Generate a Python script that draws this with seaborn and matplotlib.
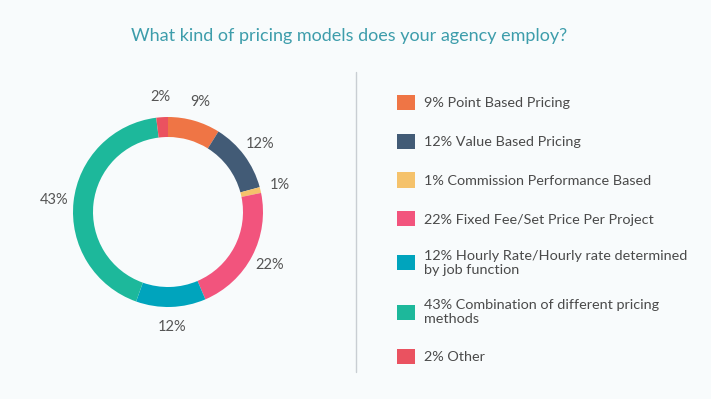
import matplotlib
matplotlib.use("Agg")
import matplotlib.pyplot as plt
import seaborn as sns

# data
shares = [9, 12, 1, 22, 12, 43, 2]
pct_labels = ["9%", "12%", "1%", "22%", "12%", "43%", "2%"]
legend_labels = [
    "9% Point Based Pricing",
    "12% Value Based Pricing",
    "1% Commission Performance Based",
    "22% Fixed Fee/Set Price Per Project",
    "12% Hourly Rate/Hourly rate determined\nby job function",
    "43% Combination of different pricing\nmethods",
    "2% Other",
]
colors = ["#EF7545", "#425B76", "#F5C26B", "#F2547D", "#00A4BD", "#1DB89B", "#EA5260"]

sns.set_theme(style="white")
plt.rcParams["font.family"] = ["Lato", "DejaVu Sans"]

bg = "#F8FBFC"
fig = plt.figure(figsize=(7.11, 3.99), dpi=100, facecolor=bg)

fig.text(349 / 711, 0.91, "What kind of pricing models does your agency employ?",
         ha="center", va="center", fontsize=13, color="#3D9DAB")

ax = fig.add_axes([68 / 711, 87 / 399, 200 / 711, 200 / 399])
ax.set_facecolor(bg)
wedges, texts = ax.pie(
    shares,
    labels=pct_labels,
    colors=colors,
    startangle=90,
    counterclock=False,
    radius=0.95,
    labeldistance=1.21,
    wedgeprops=dict(width=0.2, linewidth=0),
    textprops=dict(ha="center", va="center", fontsize=10.5, color="#555555"),
)
ax.set_xlim(-1, 1)
ax.set_ylim(-1, 1)
ax.set_aspect("equal")
ax.axis("off")

# vertical separator
fig.add_artist(plt.Line2D([356 / 711, 356 / 711], [1 - 72 / 399, 1 - 372 / 399],
                          color="#C9CED3", linewidth=1))

leg = fig.legend(
    wedges,
    legend_labels,
    loc="upper left",
    bbox_to_anchor=(384 / 711, 1 - 82 / 399),
    frameon=False,
    fontsize=10.4,
    handlelength=1.25,
    handleheight=1.25,
    handletextpad=0.6,
    labelspacing=1.62,
    labelcolor="#4A4A4A",
)

fig.savefig("out.png", dpi=100, facecolor=bg)
